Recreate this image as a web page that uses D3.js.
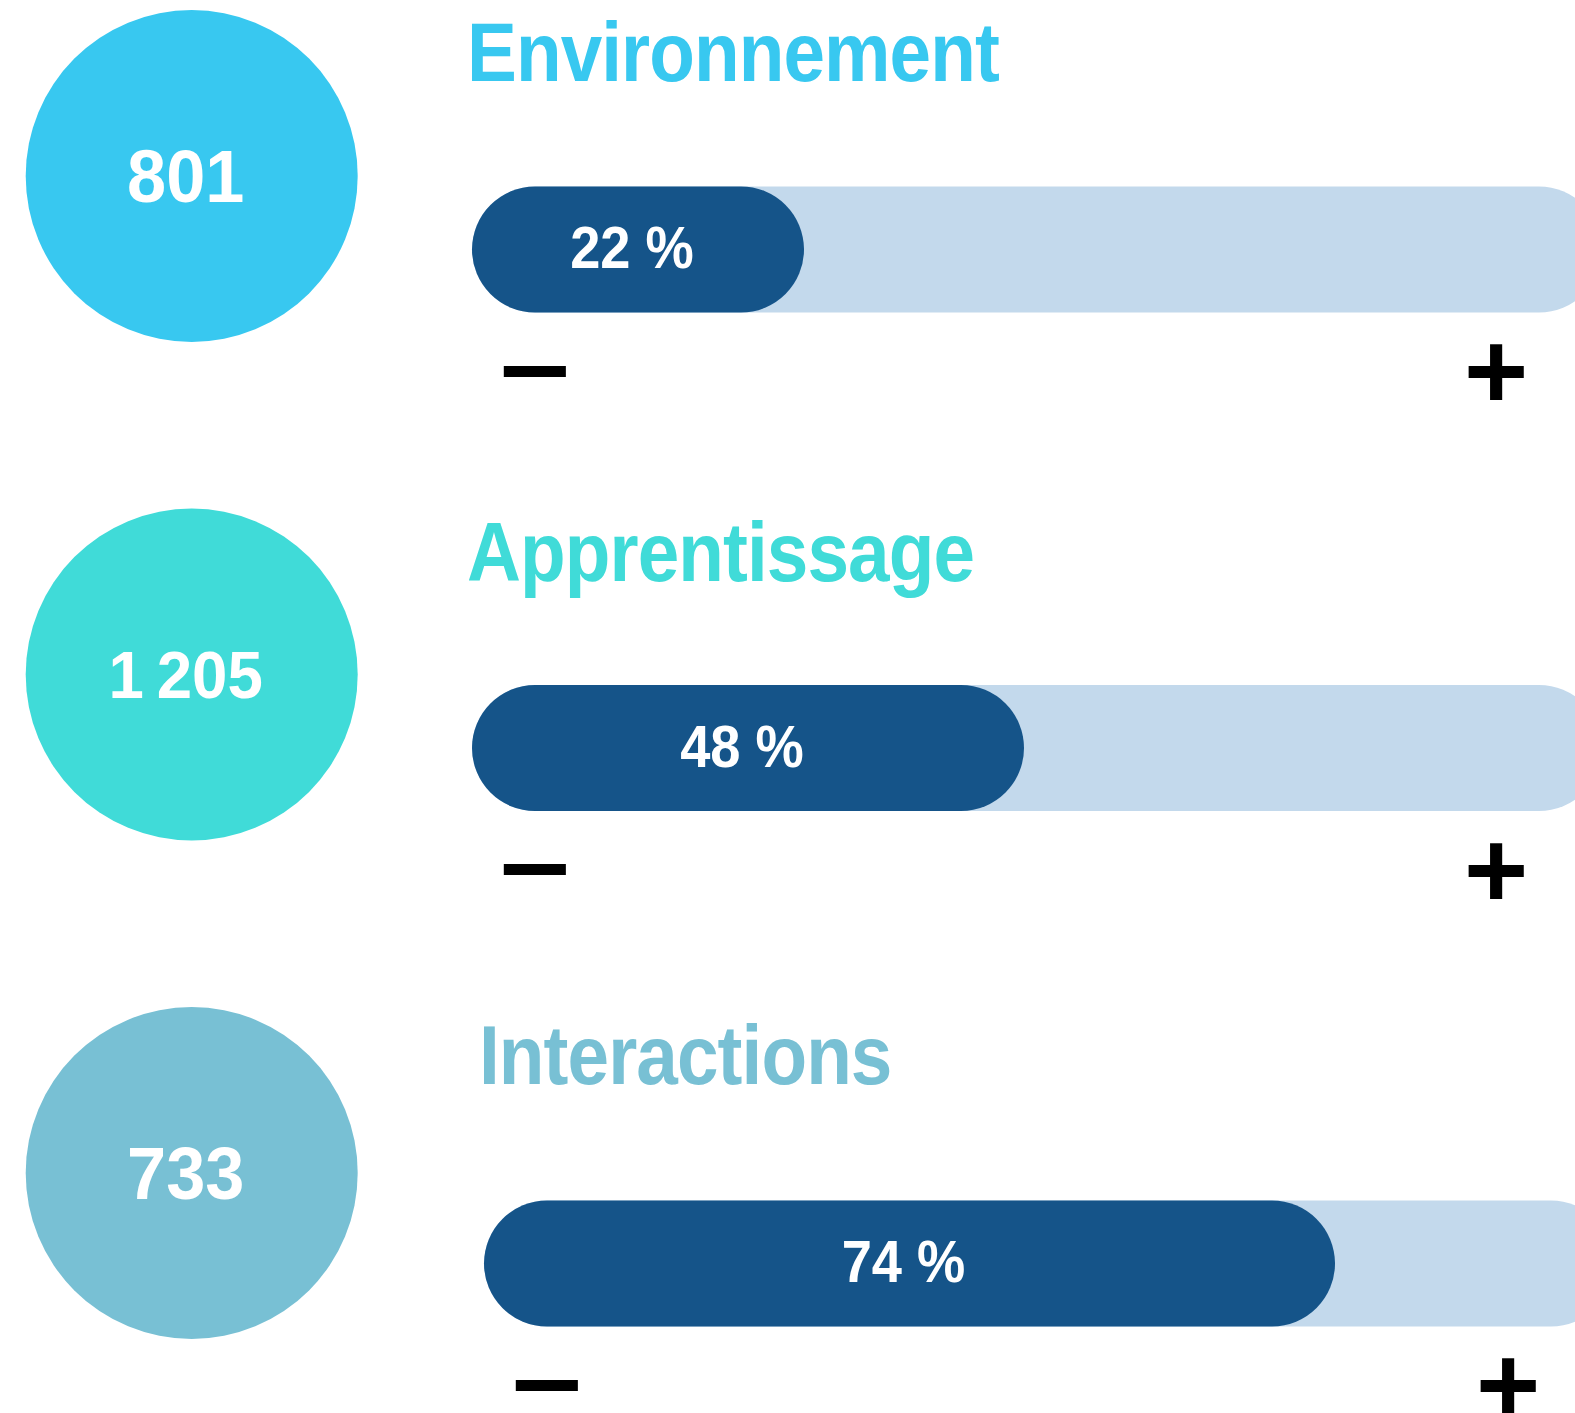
<!DOCTYPE html>
<html lang="fr">

<head>
	<title>Indicateurs</title>
	<meta charset="utf-8">
	<script src="https://d3js.org/d3.v7.min.js"></script>
	<style>
		html, body { margin: 0; padding: 0; background: #ffffff; overflow: hidden; }
		svg { display: block; font-family: "Liberation Sans", Arial, sans-serif; }
	</style>
</head>

<body>
	<div id="container1"></div>
	<script>
		// Data
		const categories = ["Environnement", "Apprentissage", "Interactions"];
		const counts = [801, 1205, 733];
		const percents = [22, 48, 74];
		const colors = ["#38c8f0", "#40dbd8", "#78c0d4"];

		// Small per-row nudges seen in the layout (third row sits a bit lower / right)
		const rowNudge = [
			{ dx: 0, titleDy: -2, barDy: 0 },
			{ dx: 0, titleDy: 0, barDy: 0 },
			{ dx: 12, titleDy: 4, barDy: 17 }
		];

		// Chart dimensions
		const width = 1575;
		const height = 1413;
		const circleX = 191.7;
		const radius = 166;
		const barLeft = 472;
		const barHeight = 126;
		const trackWidth = 1130;
		const minBar = 332;

		const svg = d3.select("#container1")
			.append("svg")
			.attr("width", width)
			.attr("height", height);

		// Scales
		const yScale = d3.scalePoint()
			.domain(categories)
			.range([176, 1173]);

		const xScale = d3.scaleLinear()
			.domain([0, 100])
			.range([0, 1150]);

		const fr = d3.formatLocale({
			decimal: ",",
			thousands: "\u202f",
			grouping: [3],
			currency: ["", "\u00a0€"],
			percent: "\u00a0%"
		});
		const formatCount = fr.format(",d");
		const formatPct = fr.format(".0%");

		const rows = categories.map((name, i) => ({
			name,
			count: counts[i],
			pct: percents[i],
			color: colors[i],
			nudge: rowNudge[i]
		}));

		const groups = svg.selectAll("g.row")
			.data(rows)
			.join("g")
			.attr("class", "row")
			.attr("transform", d => `translate(0, ${yScale(d.name)})`);

		// Circles with counts (long numbers get a smaller size to fit)
		const countSize = d => d.count >= 1000 ? 67 : 74;

		groups.append("circle")
			.attr("cx", circleX)
			.attr("cy", 0)
			.attr("r", radius)
			.attr("fill", d => d.color);

		groups.append("text")
			.attr("transform", d => `translate(${circleX - 6}, ${countSize(d) * 0.358}) scale(0.95, 1)`)
			.attr("text-anchor", "middle")
			.attr("fill", "#ffffff")
			.style("font-size", d => countSize(d) + "px")
			.style("font-weight", "bold")
			.text(d => formatCount(d.count));

		// Titles
		groups.append("text")
			.attr("transform", d => `translate(${barLeft - 5 + d.nudge.dx}, ${-93.5 + d.nudge.titleDy}) scale(0.9, 1)`)
			.attr("fill", d => d.color)
			.style("font-size", "83px")
			.style("font-weight", "bold")
			.style("letter-spacing", "-1px")
			.text(d => d.name);

		// Bars
		const bars = groups.append("g")
			.attr("transform", d => `translate(${barLeft + d.nudge.dx}, ${73.5 + d.nudge.barDy})`);

		bars.append("rect")
			.attr("x", 0)
			.attr("y", -barHeight / 2)
			.attr("width", trackWidth)
			.attr("height", barHeight)
			.attr("rx", barHeight / 2)
			.attr("fill", "#c3d9ec");

		bars.append("rect")
			.attr("x", 0)
			.attr("y", -barHeight / 2)
			.attr("width", d => Math.max(xScale(d.pct), minBar))
			.attr("height", barHeight)
			.attr("rx", barHeight / 2)
			.attr("fill", "#155489");

		bars.append("text")
			.attr("transform", d => `translate(${Math.max(xScale(d.pct), minBar) / 2 - 6}, 18.6) scale(0.92, 1)`)
			.attr("text-anchor", "middle")
			.attr("fill", "#ffffff")
			.style("font-size", "59px")
			.style("font-weight", "bold")
			.text(d => formatPct(d.pct / 100));

		// Scale ends
		bars.append("text")
			.attr("transform", `translate(${barHeight / 2}, 112) scale(1.12, 1)`)
			.attr("dy", "0.35em")
			.attr("text-anchor", "middle")
			.attr("fill", "#000000")
			.style("font-size", "112px")
			.style("font-weight", "bold")
			.text("\u2013");

		bars.append("text")
			.attr("x", 1024)
			.attr("y", 121)
			.attr("dy", "0.35em")
			.attr("text-anchor", "middle")
			.attr("fill", "#000000")
			.style("font-size", "110px")
			.style("font-weight", "bold")
			.text("+");
	</script>
</body>

</html>
